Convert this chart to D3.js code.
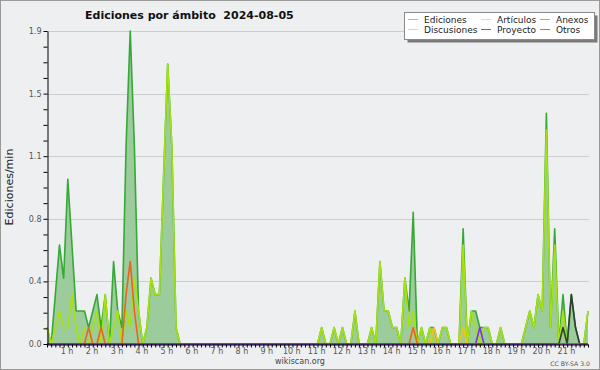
<!DOCTYPE html>
<html>
<head>
<meta charset="utf-8">
<script src="https://cdn.jsdelivr.net/npm/d3@7"></script>
<style>
body { margin: 0; background: #fff; }
svg text { font-family: "DejaVu Sans", sans-serif; white-space: pre; }
</style>
</head>
<body>
<svg id="chart" width="600" height="370"></svg>
<script>
var title = "Ediciones por ámbito  2024-08-05";
var yLabel = "Ediciones/min";
var hours = d3.range(1, 22); // tick labels "1 h" .. "21 h"

// edits per minute, one value per 10 minute bucket (131 buckets)
var ediciones = [
  0.1,0,0.3,0.6,0.4,1.0,0.6,0.2,0.2,0.2,
  0.1,0.2,0.3,0.1,0.3,0,0.5,0.2,0.1,1.2,
  1.9,1.2,0.2,0,0.1,0.4,0.3,0.3,1.0,1.7,
  1.2,0.1,0,0,0,0,0,0,0,0,
  0,0,0,0,0,0,0,0,0,0,
  0,0,0,0,0,0,0,0,0,0,
  0,0,0,0,0,0,0.1,0,0,0.1,
  0,0.1,0,0,0.2,0,0,0,0.1,0,
  0.5,0.2,0.2,0.1,0.1,0,0.4,0.2,0.8,0,
  0.1,0,0.1,0.1,0,0.1,0.1,0,0,0,
  0.7,0,0.2,0.2,0.1,0.1,0.1,0,0,0.1,
  0,0,0,0,0,0.1,0.2,0.1,0.3,0.2,
  1.4,0.1,0.7,0,0.3,0,0.3,0.1,0,0,
  0.2
];
var articulos = [
  0.1,0,0.1,0.2,0.1,0.1,0.3,0.1,0,0.1,
  0,0.1,0.2,0,0.3,0,0.1,0.2,0,0.2,
  0.1,0.4,0.2,0,0.1,0.4,0.3,0.3,1.0,1.7,
  1.2,0.1,0,0,0,0,0,0,0,0,
  0,0,0,0,0,0,0,0,0,0,
  0,0,0,0,0,0,0,0,0,0,
  0,0,0,0,0,0,0.1,0,0,0.1,
  0,0.1,0,0,0.2,0,0,0,0.1,0,
  0.5,0.2,0.2,0.1,0.1,0,0.4,0.1,0.2,0,
  0.1,0,0.1,0,0,0.1,0.1,0,0,0,
  0.6,0,0.2,0.1,0,0.1,0.1,0,0,0.1,
  0,0,0,0,0,0.1,0.2,0.1,0.3,0.2,
  1.3,0.1,0.6,0,0.2,0,0,0,0,0,
  0.2
];
var anexos = [
  0,0,0,0,0,0,0,0,0,0,
  0.1,0,0,0.1,0,0,0,0,0,0.3,
  0.5,0.2,0,0,0,0,0,0,0,0,
  0,0,0,0,0,0,0,0,0,0,
  0,0,0,0,0,0,0,0,0,0,
  0,0,0,0,0,0,0,0,0,0,
  0,0,0,0,0,0,0,0,0,0,
  0,0,0,0,0,0,0,0,0,0,
  0,0,0,0,0,0,0,0,0.1,0,
  0,0,0,0,0,0,0,0,0,0,
  0,0,0,0,0,0,0,0,0,0,
  0,0,0,0,0,0,0,0,0,0,
  0,0,0,0,0,0,0,0,0,0,
  0
];
var discusiones = [
  0,0,0,0,0,0,0,0,0,0,
  0,0,0,0,0,0,0,0,0,0,
  0,0,0,0,0,0,0,0,0,0,
  0,0,0,0,0,0,0,0,0,0,
  0,0,0,0,0,0,0,0,0,0,
  0,0,0,0,0,0,0,0,0,0,
  0,0,0,0,0,0,0,0,0,0,
  0,0,0,0,0,0,0,0,0,0,
  0,0,0,0,0,0,0,0,0,0,
  0,0,0,0.1,0,0,0,0,0,0,
  0.1,0,0,0,0,0,0,0,0,0,
  0,0,0,0,0,0,0,0,0,0,
  0,0,0,0,0,0,0,0,0,0,
  0
];
var proyecto = [
  0,0,0,0,0,0,0,0,0,0,
  0,0,0,0,0,0,0,0,0,0,
  0,0,0,0,0,0,0,0,0,0,
  0,0,0,0,0,0,0,0,0,0,
  0,0,0,0,0,0,0,0,0,0,
  0,0,0,0,0,0,0,0,0,0,
  0,0,0,0,0,0,0,0,0,0,
  0,0,0,0,0,0,0,0,0,0,
  0,0,0,0,0,0,0,0,0,0,
  0,0,0,0,0,0,0,0,0,0,
  0,0,0,0,0,0,0,0,0,0,
  0,0,0,0,0,0,0,0,0,0,
  0,0,0,0,0.1,0,0.3,0.1,0,0,
  0
];
var otros = [
  0,0,0,0,0,0,0,0,0,0,
  0,0,0,0,0,0,0,0,0,0,
  0,0,0,0,0,0,0,0,0,0,
  0,0,0,0,0,0,0,0,0,0,
  0,0,0,0,0,0,0,0,0,0,
  0,0,0,0,0,0,0,0,0,0,
  0,0,0,0,0,0,0,0,0,0,
  0,0,0,0,0,0,0,0,0,0,
  0,0,0,0,0,0,0,0,0,0,
  0,0,0,0,0,0,0,0,0,0,
  0,0,0,0,0.1,0,0,0,0,0,
  0,0,0,0,0,0,0,0,0,0,
  0,0,0,0,0,0,0,0,0,0,
  0
];

var series = [
  {name: "Ediciones",   values: ediciones,   color: "#36a836", legend: "#8fd48f"},
  {name: "Artículos",   values: articulos,   color: "#a6e20e", legend: "#d2f070"},
  {name: "Anexos",      values: anexos,      color: "#f2601e", legend: "#f39068"},
  {name: "Discusiones", values: discusiones, color: "#f5c21a", legend: "#f7d66a"},
  {name: "Proyecto",    values: proyecto,    color: "#304030", legend: "#707070"},
  {name: "Otros",       values: otros,       color: "#7a36e0", legend: "#9a66e8"}
];
// legend layout: 3 columns, 2 rows
var legendOrder = ["Ediciones", "Artículos", "Anexos", "Discusiones", "Proyecto", "Otros"];

function drawChart() {
  var svg = d3.select("#chart");
  var W = 600, H = 370;
  var plotLeft = 47, plotRight = 588, plotTop = 31, plotBottom = 344;

  svg.append("rect").attr("x", 0.5).attr("y", 0.5).attr("width", W - 1).attr("height", H - 1)
    .attr("fill", "#eeeff1").attr("stroke", "#9a9a9a");

  var x = d3.scaleLinear().domain([0, ediciones.length - 1]).range([plotLeft, plotRight]);
  var y = d3.scaleLinear().domain([0, 1.9]).range([plotBottom, plotTop]);

  var yTicks = d3.range(0, 21).map(function(k) { return k * 1.9 / 20; });
  var yMajor = yTicks.filter(function(d, k) { return k % 4 === 0; });

  // grid
  svg.append("g").selectAll("line").data(yMajor.slice(1)).enter().append("line")
    .attr("x1", plotLeft).attr("x2", plotRight + 1)
    .attr("y1", function(d) { return Math.round(y(d)) + 0.5; })
    .attr("y2", function(d) { return Math.round(y(d)) + 0.5; })
    .attr("stroke", "#cdcdcd").attr("stroke-width", 1);

  // area under Ediciones
  var area = d3.area()
    .x(function(d, i) { return x(i); })
    .y0(y(0))
    .y1(function(d) { return y(d); });
  svg.append("path").datum(ediciones).attr("d", area)
    .attr("fill", "#9ccb9c");

  var line = d3.line()
    .x(function(d, i) { return x(i); })
    .y(function(d) { return y(d); });

  series.forEach(function(s) {
    svg.append("path").datum(s.values).attr("d", line)
      .attr("fill", "none")
      .attr("stroke", s.color)
      .attr("stroke-width", 1.6)
      .attr("stroke-linejoin", "round");
  });

  // y axis
  var yAxis = d3.axisLeft(y).tickValues(yTicks).tickSize(4).tickSizeOuter(0)
    .tickFormat(function(d, k) { return k % 4 === 0 ? d3.format(".1f")(d) : ""; });
  var gy = svg.append("g").attr("transform", "translate(" + (plotLeft + 0.5) + ",0)").call(yAxis);
  gy.selectAll("path,line").attr("stroke", "#000");
  gy.selectAll("text").attr("font-size", 8).attr("fill", "#555").attr("x", -6)
    .style("font-family", "DejaVu Sans");

  // x axis: one tick per 10 minutes
  var xAxis = d3.axisBottom(x).tickValues(d3.range(0, ediciones.length)).tickSize(3)
    .tickSizeOuter(0).tickFormat("");
  var gx = svg.append("g").attr("transform", "translate(0," + (plotBottom + 0.5) + ")").call(xAxis);
  gx.selectAll("path,line").attr("stroke", "#000");

  // hour labels
  var hourAxis = d3.axisBottom(x).tickValues(hours.map(function(h) { return 6 * h - 1.3; }))
    .tickSize(0).tickPadding(3)
    .tickFormat(function(d, k) { return hours[k] + " h"; });
  var gh = svg.append("g").attr("transform", "translate(0," + (plotBottom + 1) + ")").call(hourAxis);
  gh.select(".domain").remove();
  gh.selectAll("text").attr("font-size", 8).attr("fill", "#555")
    .style("font-family", "DejaVu Sans");

  // titles
  svg.append("text").attr("x", 85).attr("y", 19).text(title)
    .attr("font-size", 11).attr("font-weight", "bold").attr("fill", "#111");
  svg.append("text").attr("transform", "translate(13,187) rotate(-90)")
    .attr("text-anchor", "middle").attr("font-size", 11).attr("fill", "#222").text(yLabel);
  svg.append("text").attr("x", 300).attr("y", 364).attr("text-anchor", "middle")
    .attr("font-size", 8).attr("fill", "#444").text("wikiscan.org");
  svg.append("text").attr("x", 590).attr("y", 366).attr("text-anchor", "end")
    .attr("font-size", 6.2).attr("fill", "#555").text("CC BY-SA 3.0");

  // legend
  var lg = svg.append("g");
  lg.append("rect").attr("x", 407.5).attr("y", 15.5).attr("width", 190).attr("height", 27).attr("fill", "#7a7a7a");
  lg.append("rect").attr("x", 404.5).attr("y", 12.5).attr("width", 190).attr("height", 27)
    .attr("fill", "#fff").attr("stroke", "#8a8a8a");
  var colX = [408, 481, 540];
  var rowY = [19, 29];
  legendOrder.forEach(function(name, k) {
    var s = series.filter(function(d) { return d.name === name; })[0];
    var cx = colX[k % 3], cy = rowY[Math.floor(k / 3)];
    lg.append("line").attr("x1", cx).attr("x2", cx + 10).attr("y1", cy + 0.5).attr("y2", cy + 0.5)
      .attr("stroke", s.legend).attr("stroke-width", 1);
    lg.append("text").attr("x", cx + 16).attr("y", cy + 3.5).attr("font-size", 9).attr("fill", "#222")
      .text(name);
  });
}

drawChart();
</script>
</body>
</html>
